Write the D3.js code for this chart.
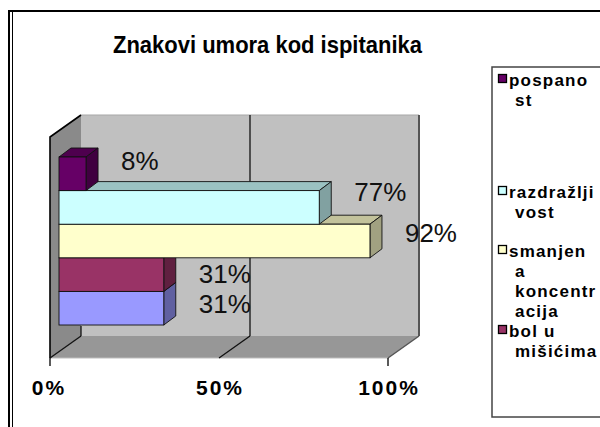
<!DOCTYPE html>
<html>
<head>
<meta charset="utf-8">
<script src="https://cdn.jsdelivr.net/npm/d3@7/dist/d3.min.js"></script>
<style>
  html, body { margin: 0; padding: 0; background: #fff; }
  svg { display: block; }
  text { font-family: "Liberation Sans", Arial, sans-serif; }
</style>
</head>
<body>
<script>
// ---------------- DATA ----------------
const title = "Znakovi umora kod ispitanika";
const seriesNames = ["pospanost", "razdražljivost", "smanjena koncentracija", "bol u mišićima", ""];
const seriesValues = [0.08, 0.77, 0.92, 0.31, 0.31];
const valueLabels = ["8%", "77%", "92%", "31%", "31%"];
const seriesColors = ["#660066", "#CCFFFF", "#FFFFCC", "#993366", "#9999FF"];
const axisTicks = [0, 0.5, 1];
const axisTickLabels = ["0%", "50%", "100%"];
const legendLines = [["pospano", "st"], ["razdražlji", "vost"], ["smanjen", "a", "koncentr", "acija"], ["bol u", "mišićima"]];

// ---------------- LAYOUT ----------------
const W = 600, H = 427;
const svg = d3.select("body").append("svg").attr("width", W).attr("height", H);
svg.append("rect").attr("width", W).attr("height", H).attr("fill", "#fff");

// outer chart frame (extends past the window on right/bottom)
svg.append("rect").attr("x", 9).attr("y", 11).attr("width", 700).attr("height", 500)
  .attr("fill", "none").attr("stroke", "#000").attr("stroke-width", 2);
svg.append("line").attr("x1", 12.5).attr("x2", 12.5).attr("y1", 12).attr("y2", H)
  .attr("stroke", "#000").attr("stroke-width", 1);

// title
svg.append("text").attr("x", 267.5).attr("y", 53).attr("text-anchor", "middle")
  .attr("font-size", 23).attr("font-weight", "bold").attr("fill", "#000")
  .attr("textLength", 309).attr("lengthAdjust", "spacingAndGlyphs")
  .text(title);

// 3D frame geometry
const frontLeft = 50, frontRight = 388, frontTop = 137, frontBottom = 358;
const wallDX = 31, wallDY = -22;
const xFloor = d3.scaleLinear().domain([0, 1]).range([frontLeft, frontRight]);
const backTop = frontTop + wallDY, backBottom = frontBottom + wallDY;
const pts = a => a.map(p => p.join(",")).join(" ");

// back wall
svg.append("polygon")
  .attr("points", pts([[xFloor(0) + wallDX, backTop], [xFloor(1) + wallDX, backTop], [xFloor(1) + wallDX, backBottom], [xFloor(0) + wallDX, backBottom]]))
  .attr("fill", "#C0C0C0").attr("stroke", "none");
svg.append("line").attr("x1", xFloor(0) + wallDX).attr("x2", xFloor(1) + wallDX).attr("y1", backTop).attr("y2", backTop)
  .attr("stroke", "#a8a8a8").attr("stroke-width", 1.2);
svg.append("line").attr("x1", xFloor(1) + wallDX).attr("x2", xFloor(1) + wallDX).attr("y1", backTop).attr("y2", backBottom)
  .attr("stroke", "#555").attr("stroke-width", 2);

// floor
svg.append("polygon")
  .attr("points", pts([[xFloor(0), frontBottom], [xFloor(1), frontBottom], [xFloor(1) + wallDX, backBottom], [xFloor(0) + wallDX, backBottom]]))
  .attr("fill", "#979797").attr("stroke", "none");
svg.append("line").attr("x1", xFloor(0)).attr("x2", xFloor(1)).attr("y1", frontBottom).attr("y2", frontBottom)
  .attr("stroke", "#bdbdbd").attr("stroke-width", 1.2);
svg.append("line").attr("x1", xFloor(1)).attr("x2", xFloor(1) + wallDX).attr("y1", frontBottom).attr("y2", backBottom)
  .attr("stroke", "#555").attr("stroke-width", 1.5);

// left wall
svg.append("polygon")
  .attr("points", pts([[frontLeft, frontTop], [frontLeft + wallDX, backTop], [frontLeft + wallDX, backBottom], [frontLeft, frontBottom]]))
  .attr("fill", "#8a8a8a").attr("stroke", "none");
svg.append("polyline")
  .attr("points", pts([[frontLeft, frontBottom], [frontLeft, frontTop], [frontLeft + wallDX, backTop]]))
  .attr("fill", "none").attr("stroke", "#000").attr("stroke-width", 1.6);

// gridlines on back wall + floor
axisTicks.forEach(t => {
  const xb = xFloor(t) + wallDX;
  if (t > 0 && t < 1) {
    svg.append("line").attr("x1", xb).attr("x2", xb).attr("y1", backTop).attr("y2", backBottom)
      .attr("stroke", "#111").attr("stroke-width", 1.3);
  }
  if (t < 1) {
    svg.append("line").attr("x1", xb).attr("x2", xFloor(t)).attr("y1", backBottom).attr("y2", frontBottom)
      .attr("stroke", "#111").attr("stroke-width", 1.3);
  }
});
svg.append("line").attr("x1", xFloor(0) + wallDX).attr("x2", xFloor(0) + wallDX).attr("y1", backBottom - 10).attr("y2", backBottom)
  .attr("stroke", "#111").attr("stroke-width", 1.3);

// axis ticks at ends
[0, 1].forEach(t => {
  svg.append("line").attr("x1", xFloor(t)).attr("x2", xFloor(t)).attr("y1", frontBottom).attr("y2", frontBottom + 8)
    .attr("stroke", "#000").attr("stroke-width", 1.3);
});
// axis labels
svg.selectAll("text.axis").data(axisTicks).enter().append("text")
  .attr("class", "axis")
  .attr("x", (d) => xFloor(d) + (d === 0 ? -1 : 1)).attr("y", 395)
  .attr("text-anchor", "middle").attr("font-size", 21).attr("font-weight", "bold")
  .attr("letter-spacing", 2).attr("fill", "#000")
  .text((d, i) => axisTickLabels[i]);

// bars
const xBar = d3.scaleLinear().domain([0, 1]).range([59, 397]);
const yBand = d3.scaleBand().domain(d3.range(seriesValues.length)).range([157, 325]).paddingInner(0).paddingOuter(0);
const barDX = 12, barDY = -9;
const shade = (c, k) => { const r = d3.rgb(c); return d3.rgb(r.r * k, r.g * k, r.b * k).formatHex(); };

const order = d3.range(seriesValues.length).reverse();
const gBars = svg.append("g");
order.forEach(i => {
  const x0 = xBar(0), x1 = xBar(seriesValues[i]);
  const y0 = yBand(i), y1 = y0 + yBand.bandwidth();
  const g = gBars.append("g");
  g.append("polygon")
    .attr("points", pts([[x0, y0], [x1, y0], [x1 + barDX, y0 + barDY], [x0 + barDX, y0 + barDY]]))
    .attr("fill", shade(seriesColors[i], 0.76)).attr("stroke", "#111").attr("stroke-width", 0.9).attr("stroke-linejoin", "round");
  g.append("polygon")
    .attr("points", pts([[x1, y0], [x1 + barDX, y0 + barDY], [x1 + barDX, y1 + barDY], [x1, y1]]))
    .attr("fill", shade(seriesColors[i], 0.63)).attr("stroke", "#111").attr("stroke-width", 0.9).attr("stroke-linejoin", "round");
  g.append("rect")
    .attr("x", x0).attr("y", y0).attr("width", x1 - x0).attr("height", y1 - y0)
    .attr("fill", seriesColors[i]).attr("stroke", "#111").attr("stroke-width", 0.9);
});

// value labels
const labelDY = [-4, -6, 1, 8, 5];
svg.selectAll("text.val").data(seriesValues).enter().append("text")
  .attr("class", "val")
  .attr("x", d => xBar(d) + 35)
  .attr("y", (d, i) => yBand(i) + yBand.bandwidth() / 2 + labelDY[i])
  .attr("font-size", 26).attr("fill", "#111")
  .text((d, i) => valueLabels[i]);

// legend
const legX = 492, legY = 67;
svg.append("rect").attr("x", legX).attr("y", legY).attr("width", 300).attr("height", 350)
  .attr("fill", "#fff").attr("stroke", "#444").attr("stroke-width", 1.5);
const itemBaselines = [86, 198, 257, 337];
const lineH = 20;
legendLines.forEach((lines, i) => {
  const yb = itemBaselines[i];
  svg.append("rect").attr("x", legX + 6.5).attr("y", yb - 11.5).attr("width", 8).attr("height", 8)
    .attr("fill", seriesColors[i]).attr("stroke", "#000").attr("stroke-width", 1.3);
  lines.forEach((ln, j) => {
    svg.append("text").attr("x", j === 0 ? legX + 17 : legX + 23).attr("y", yb + j * lineH)
      .attr("font-size", 17).attr("font-weight", "bold").attr("letter-spacing", 1.2).attr("fill", "#000")
      .text(ln);
  });
});
</script>
</body>
</html>
